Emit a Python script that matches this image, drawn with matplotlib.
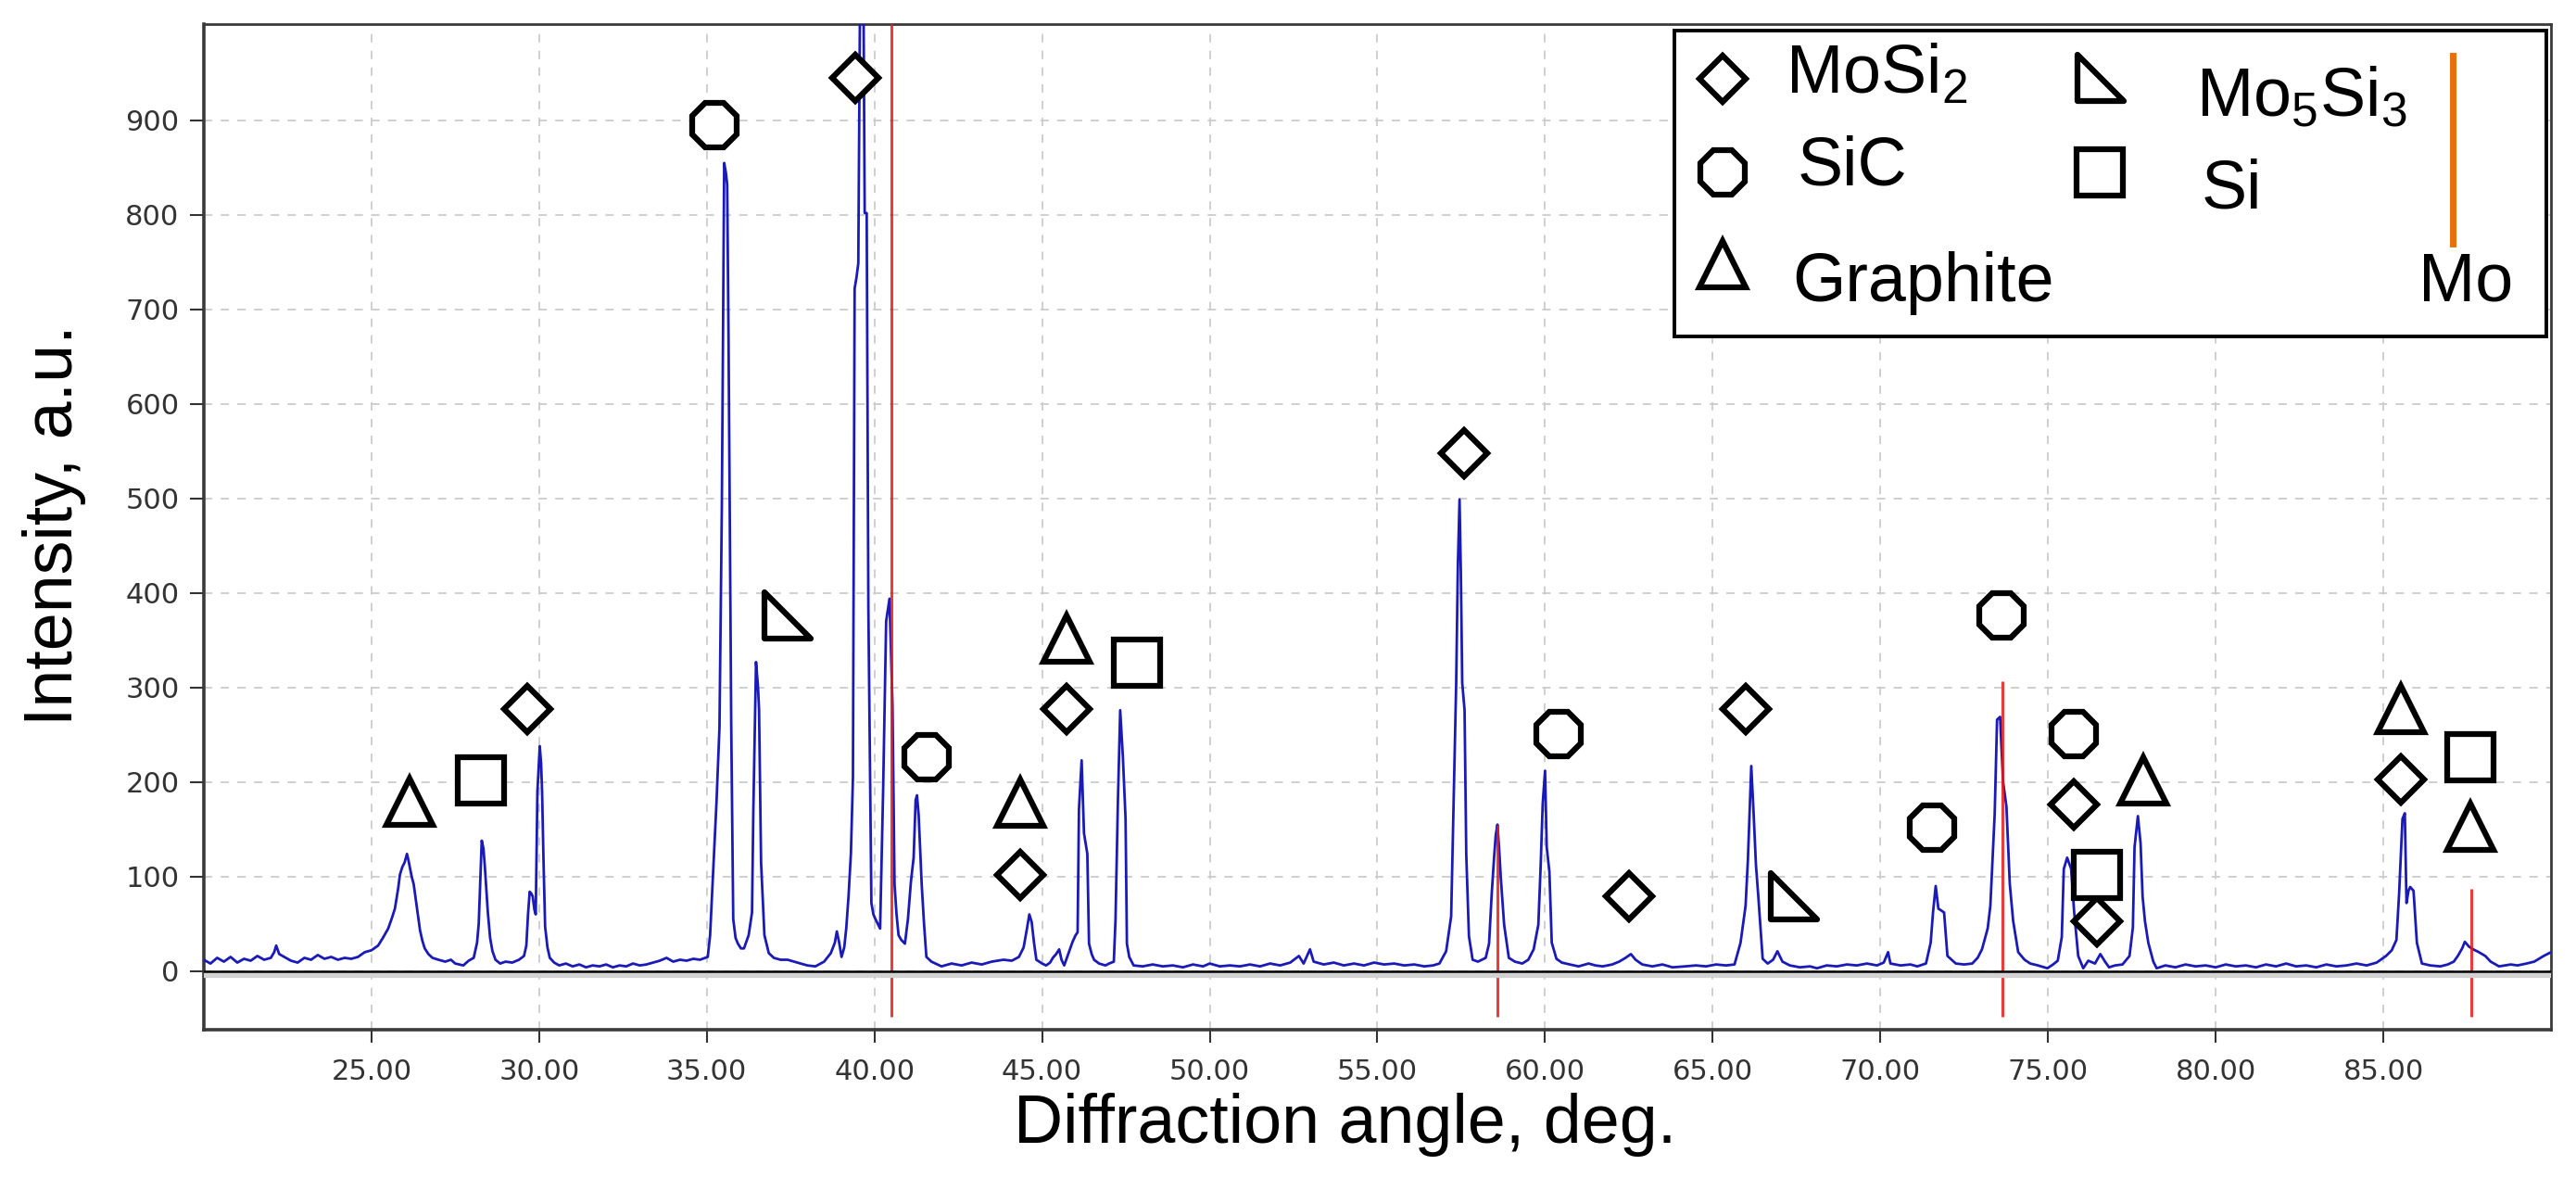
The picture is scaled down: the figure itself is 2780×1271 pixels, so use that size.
import matplotlib
matplotlib.use("Agg")
import matplotlib.pyplot as plt
from matplotlib.path import Path
from matplotlib.transforms import offset_copy

plt.rcParams['font.family'] = ['Liberation Sans', 'DejaVu Sans']
plt.rcParams['mathtext.fontset'] = 'custom'
plt.rcParams['mathtext.rm'] = 'Liberation Sans'
plt.rcParams['mathtext.it'] = 'Liberation Sans:italic'

# XRD pattern (angle, deg. / intensity, a.u.)
angle = [
    20.0, 20.2, 20.4, 20.6, 20.8, 21.0, 21.2, 21.4, 21.6, 21.8, 22.0, 22.1, 22.16, 22.25, 22.4,
    22.6, 22.8, 23.0, 23.2, 23.4, 23.6, 23.8, 24.0, 24.2, 24.4, 24.6, 24.8, 25.0, 25.2, 25.34,
    25.5, 25.6, 25.7, 25.8, 25.85, 25.92, 25.99, 26.06, 26.1, 26.15, 26.2, 26.26, 26.36, 26.45,
    26.52, 26.59, 26.7, 26.82, 27.0, 27.2, 27.37, 27.5, 27.74, 27.9, 28.05, 28.15, 28.2, 28.25,
    28.29, 28.34, 28.38, 28.43, 28.47, 28.54, 28.61, 28.7, 28.84, 29.0, 29.2, 29.4, 29.55, 29.62,
    29.67, 29.72, 29.77, 29.81, 29.86, 29.9, 29.95, 30.02, 30.06, 30.09, 30.13, 30.18, 30.25,
    30.32, 30.45, 30.6, 30.8, 31.0, 31.2, 31.4, 31.6, 31.8, 32.0, 32.2, 32.4, 32.6, 32.8, 33.0,
    33.2, 33.4, 33.6, 33.8, 34.0, 34.2, 34.4, 34.6, 34.8, 35.03, 35.1, 35.19, 35.29, 35.38, 35.45,
    35.52, 35.57, 35.61, 35.65, 35.73, 35.79, 35.86, 35.93, 36.02, 36.11, 36.25, 36.35, 36.39,
    36.47, 36.53, 36.56, 36.62, 36.72, 36.85, 37.0, 37.2, 37.41, 37.6, 37.8, 38.0, 38.24, 38.5,
    38.7, 38.82, 38.88, 38.95, 39.02, 39.1, 39.16, 39.23, 39.3, 39.36, 39.41, 39.47, 39.52, 39.58,
    39.63, 39.67, 39.71, 39.77, 39.82, 39.91, 39.97, 40.03, 40.1, 40.17, 40.26, 40.35, 40.45,
    40.54, 40.6, 40.66, 40.72, 40.8, 40.91, 41.0, 41.09, 41.17, 41.23, 41.27, 41.32, 41.41, 41.48,
    41.55, 41.7, 42.0, 42.3, 42.6, 42.9, 43.2, 43.5, 43.85, 44.1, 44.31, 44.45, 44.55, 44.62,
    44.69, 44.76, 44.83, 45.0, 45.12, 45.24, 45.32, 45.42, 45.51, 45.58, 45.66, 45.8, 45.91, 46.0,
    46.06, 46.1, 46.18, 46.25, 46.35, 46.4, 46.48, 46.55, 46.7, 46.89, 47.0, 47.14, 47.19, 47.26,
    47.33, 47.41, 47.49, 47.53, 47.6, 47.73, 48.0, 48.3, 48.6, 48.9, 49.2, 49.5, 49.8, 50.0, 50.3,
    50.6, 50.9, 51.2, 51.5, 51.8, 52.1, 52.4, 52.66, 52.8, 52.99, 53.1, 53.4, 53.7, 54.0, 54.3,
    54.6, 54.9, 55.2, 55.5, 55.8, 56.1, 56.4, 56.66, 56.85, 57.05, 57.2, 57.27, 57.35, 57.4, 57.45,
    57.49, 57.53, 57.6, 57.65, 57.73, 57.84, 58.0, 58.23, 58.33, 58.41, 58.48, 58.53, 58.58,
    58.63, 58.68, 58.78, 58.92, 59.1, 59.32, 59.5, 59.66, 59.8, 59.87, 59.93, 60.0, 60.05, 60.13,
    60.2, 60.34, 60.5, 60.74, 61.0, 61.3, 61.5, 61.72, 62.0, 62.21, 62.4, 62.56, 62.7, 62.9, 63.2,
    63.5, 63.8, 64.18, 64.5, 64.8, 65.1, 65.4, 65.65, 65.83, 65.98, 66.05, 66.15, 66.22, 66.29,
    66.36, 66.49, 66.64, 66.8, 66.93, 67.08, 67.3, 67.6, 67.9, 68.11, 68.4, 68.7, 69.0, 69.3,
    69.6, 69.9, 70.1, 70.23, 70.3, 70.6, 70.9, 71.1, 71.36, 71.5, 71.57, 71.65, 71.73, 71.82,
    71.9, 72.0, 72.25, 72.5, 72.74, 72.9, 73.03, 73.2, 73.28, 73.41, 73.48, 73.57, 73.66, 73.76,
    73.86, 73.96, 74.11, 74.3, 74.47, 74.7, 74.98, 75.15, 75.29, 75.41, 75.47, 75.57, 75.69,
    75.78, 75.9, 76.05, 76.2, 76.4, 76.56, 76.7, 76.82, 77.0, 77.22, 77.43, 77.53, 77.58, 77.68,
    77.76, 77.82, 77.89, 77.99, 78.14, 78.24, 78.5, 78.8, 79.1, 79.4, 79.7, 80.0, 80.3, 80.6,
    80.9, 81.2, 81.5, 81.8, 82.1, 82.4, 82.7, 83.0, 83.3, 83.6, 83.9, 84.2, 84.5, 84.8, 85.08,
    85.25, 85.39, 85.47, 85.57, 85.64, 85.69, 85.75, 85.8, 85.9, 86.0, 86.15, 86.4, 86.7, 86.92,
    87.1, 87.22, 87.35, 87.43, 87.55, 87.68, 87.85, 88.04, 88.2, 88.45, 88.8, 89.0, 89.27, 89.5,
    89.78, 90.0]
intensity = [
    12, 8, 14, 10, 15, 9, 13, 11, 16, 12, 14, 20, 27, 18, 15,
    11, 9, 14, 12, 17, 13, 15, 12, 14, 13, 15, 20, 22, 27, 35,
    45, 55, 66, 88, 102, 110, 115, 124, 118, 109, 100, 92, 66, 43,
    32, 24, 18, 14, 12, 10, 12, 8, 6, 11, 14, 30, 50, 100,
    138, 130, 112, 85, 63, 35, 21, 12, 8, 10, 9, 12, 16, 27,
    60, 84, 82, 79, 65, 60, 190, 238, 220, 190, 120, 47, 25,
    14, 9, 6, 8, 5, 7, 4, 6, 5, 7, 4, 6, 5, 8, 6,
    7, 9, 11, 14, 10, 12, 11, 13, 12, 15, 38, 105, 178, 258, 490,
    855, 845, 832, 669, 261, 55, 35, 29, 24, 24, 38, 62, 171,
    327, 300, 277, 115, 38, 19, 14, 12, 12, 10, 8, 6, 5, 10,
    19, 30, 42, 30, 15, 25, 45, 80, 125, 205, 722, 735, 749, 1080,
    1100, 1060, 802, 802, 384, 72, 60, 55, 50, 45, 191, 370, 394,
    281, 92, 60, 38, 33, 29, 55, 95, 120, 181, 186, 165, 92, 50,
    15, 10, 5, 8, 6, 9, 7, 10, 12, 11, 15, 25, 45, 60,
    52, 30, 12, 8, 6, 9, 14, 18, 23, 12, 6, 20, 31, 38,
    41, 171, 223, 146, 124, 29, 18, 12, 8, 6, 8, 10, 54, 177,
    276, 227, 161, 29, 15, 6, 5, 7, 5, 6, 4, 7, 5, 8, 5,
    6, 5, 7, 5, 8, 6, 9, 16, 8, 23, 10, 7, 9, 6, 8,
    6, 9, 7, 8, 6, 7, 5, 6, 8, 21, 58, 171, 305, 429, 499,
    420, 305, 276, 124, 37, 12, 10, 14, 29, 82, 120, 144, 155,
    130, 99, 49, 14, 10, 8, 12, 23, 49, 112, 177, 212, 131, 105,
    30, 13, 9, 7, 5, 8, 6, 5, 7, 10, 14, 18, 12, 7, 5,
    7, 4, 5, 6, 5, 7, 6, 7, 30, 69, 118, 217, 167, 112,
    79, 13, 8, 12, 21, 10, 6, 4, 5, 3, 6, 5, 7, 6,
    8, 6, 9, 20, 8, 6, 7, 5, 8, 30, 62, 90, 66, 64,
    62, 16, 8, 7, 8, 14, 23, 45, 69, 167, 266, 269, 200, 174,
    92, 53, 20, 12, 8, 6, 3, 7, 11, 36, 108, 120, 108,
    62, 16, 3, 11, 8, 18, 10, 4, 6, 7, 16, 46, 131, 164,
    135, 79, 53, 30, 10, 3, 6, 4, 7, 5, 6, 4, 7, 5,
    6, 4, 7, 5, 8, 5, 6, 4, 7, 5, 6, 8, 6, 9, 16,
    22, 33, 82, 161, 167, 72, 85, 89, 85, 30, 8, 6, 5, 7,
    10, 16, 24, 31, 26, 23, 20, 16, 10, 5, 7, 6, 8, 10,
    16, 20]

# Mo reference lines
mo_x = [40.51, 58.58, 73.64, 87.61]
mo_top = [1100, 155, 307, 87]
mo_bottom = -48

# phase labels placed on the pattern
mosi2_x = [29.65, 39.43, 44.34, 45.72, 57.59, 62.49, 65.98, 75.77, 76.46, 85.51]
mosi2_y = [277, 945, 102, 277, 548, 79, 277, 176, 53, 203]
sic_x = [35.24, 41.55, 60.41, 71.53, 73.62, 75.77]
sic_y = [895, 226, 251, 152, 376, 251]
graphite_x = [26.15, 44.34, 45.72, 77.84, 85.51, 87.59]
graphite_y = [179, 178, 352, 202, 277, 153]
si_x = [28.26, 47.83, 76.46, 87.59]
si_y = [202, 326, 102, 226]
mo5si3_x = [37.4, 67.43]
mo5si3_y = [376, 79]

x_ticks = [25, 30, 35, 40, 45, 50, 55, 60, 65, 70, 75, 80, 85]
y_ticks = [0, 100, 200, 300, 400, 500, 600, 700, 800, 900]

# right triangle marker for Mo5Si3
rtri = Path([(-1, 1), (-1, -1), (1, -1), (-1, 1)],
            [Path.MOVETO, Path.LINETO, Path.LINETO, Path.CLOSEPOLY])

fig = plt.figure(figsize=(27.8, 12.71), dpi=100)
ax = fig.add_axes([0.0791, 0.1259, 0.9112, 0.8537])
ax.set_xlim(20, 90)
ax.set_ylim(-62, 1002)

# grid
ax.set_axisbelow(True)
ax.grid(True, color='#cccccc', linestyle=(0, (5, 5)), linewidth=1.3)

# curve
ax.plot(angle, intensity, color='#1a1ab8', linewidth=2.0, zorder=3)

# zero line with grey shadow
shadow = offset_copy(ax.transData, fig=fig, y=-4, units='dots')
ax.plot([20, 90], [0, 0], color='#d2d2d2', linewidth=4.5, transform=shadow, zorder=4.5)
ax.plot([20, 90], [0, 0], color='black', linewidth=1.8, zorder=4.6)

# Mo reference lines
ax.vlines(mo_x, mo_bottom, mo_top, color='#e81818', linewidth=2.2, alpha=0.85, zorder=4)

# phase markers
mk = dict(linestyle='none', mfc='white', mec='black', mew=4.5, zorder=6, clip_on=False)
ax.plot(mosi2_x, mosi2_y, marker='D', ms=25, **mk)
ax.plot(sic_x, sic_y, marker='8', ms=38, **mk)
ax.plot(graphite_x, graphite_y, marker='^', ms=36, **mk)
ax.plot(si_x, si_y, marker='s', ms=36, **mk)
ax.plot(mo5si3_x, mo5si3_y, marker=rtri, ms=36, **mk)

# axes style
ax.set_xticks(x_ticks)
ax.set_xticklabels(['%.2f' % v for v in x_ticks])
ax.set_yticks(y_ticks)
ax.set_yticklabels([str(v) for v in y_ticks])
for lab in ax.get_xticklabels() + ax.get_yticklabels():
    lab.set_family('DejaVu Sans')
    lab.set_fontsize(22)
    lab.set_color('#333333')
ax.tick_params(axis='x', direction='out', length=10, width=1.5, color='#333333', pad=12)
ax.tick_params(axis='y', direction='out', length=11, width=1.5, color='#333333', pad=8)
for side in ['left', 'bottom']:
    ax.spines[side].set_linewidth(2.6)
    ax.spines[side].set_color('#3a3a3a')
for side in ['top', 'right']:
    ax.spines[side].set_linewidth(2.0)
    ax.spines[side].set_color('#3a3a3a')

# legend box (drawn by hand)
T = ax.transAxes
box = plt.Rectangle((0.6265, 0.6894), 0.3715, 0.3042, transform=T, facecolor='white',
                    edgecolor='black', linewidth=2.8, zorder=7)
ax.add_patch(box)
lk = dict(linestyle='none', mfc='white', mec='black', mew=4.5, zorder=8, transform=T, clip_on=False)
ax.plot([0.6471], [0.9456], marker='D', ms=25, **lk)
ax.plot([0.6471], [0.8525], marker='8', ms=38, **lk)
ax.plot([0.6471], [0.7613], marker='^', ms=36, **lk)
ax.plot([0.8081], [0.9465], marker=rtri, ms=36, **lk)
ax.plot([0.8077], [0.8525], marker='s', ms=36, **lk)
ax.plot([0.9582, 0.9582], [0.9687, 0.7816], color='#e8700a', linewidth=5, transform=T, zorder=8)
fs = 53
tk = dict(transform=T, fontsize=fs, va='baseline', ha='left', zorder=9)
ax.text(0.6739, 0.9318, r'$\mathregular{MoSi_2}$', **tk)
ax.text(0.6790, 0.8396, 'SiC', **tk)
ax.text(0.6767, 0.7244, 'Graphite', **tk)
ax.text(0.8488, 0.9088, r'$\mathregular{Mo_5Si_3}$', **tk)
ax.text(0.8512, 0.8166, 'Si', **tk)
ax.text(0.9435, 0.7244, 'Mo', **tk)

# axis titles
fig.text(0.5223, 0.0299, 'Diffraction angle, deg.', fontsize=fs, ha='center', va='baseline')
fig.text(0.0209, 0.554, 'Intensity, a.u.', fontsize=fs, rotation=90, ha='center', va='center')

fig.savefig('out.png', dpi=100)
